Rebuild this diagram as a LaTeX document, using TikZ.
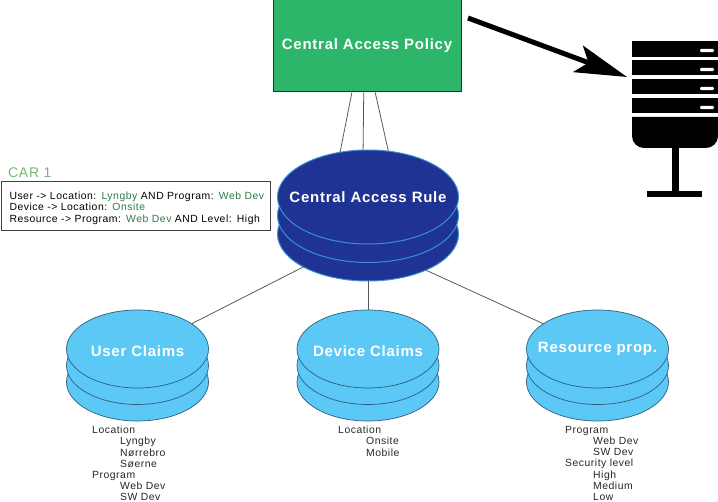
\documentclass[tikz,border=0pt]{standalone}
\usepackage{color}
\usepackage{fontspec}
\setmainfont[LetterSpace=5]{Liberation Sans}
\usepackage{tikz}
\usetikzlibrary{shapes.geometric,arrows.meta}
\definecolor{policygreen}{HTML}{2DB56A}
\definecolor{ruleblue}{HTML}{1F3394}
\definecolor{ruleedge}{HTML}{3A8FD2}
\definecolor{claimblue}{HTML}{5BC8F5}
\definecolor{claimedge}{HTML}{2C5F7E}
\definecolor{cargreen}{HTML}{70BB6E}
\definecolor{valgreen}{HTML}{2E7D46}
\tikzset{
  bigtext/.style = {text=white, font=\bfseries\fontsize{15}{17}\selectfont},
  rulelayer/.style = {ellipse, draw=ruleedge, fill=ruleblue, line width=1pt, inner sep=0pt, outer sep=0pt, minimum width=181pt, minimum height=94pt},
  claimlayer/.style = {ellipse, draw=claimedge, fill=claimblue, line width=0.7pt, inner sep=0pt, outer sep=0pt, minimum width=142pt, minimum height=78pt},
  listtext/.style = {anchor=north west, align=left, inner sep=0pt, font=\fontsize{10.4}{11.2}\selectfont, text=black!85},
  wire/.style = {draw=black!65, line width=0.8pt},
}
\newcommand{\sub}{\hspace*{28pt}}
\newcommand{\val}[1]{\textcolor{valgreen}{#1}}
\begin{document}
\begin{tikzpicture}[x=1pt, y=-1pt]
\useasboundingbox (0,0) rectangle (718,502);
% policy box
\node[rectangle, draw=black!70!green, fill=policygreen, line width=1pt, minimum width=188pt, minimum height=92pt, inner sep=0pt, bigtext] (p1) at (367,46) {\raisebox{3pt}{Central Access Policy}};
% central rule
\node[rulelayer] (r3) at (368,234) {};
\node[rulelayer] (r2) at (368,215.5) {};
\node[rulelayer, label={[bigtext]center:Central Access Rule}] (r1) at (368,197) {};
% claims
\node[claimlayer] (u3) at (137.5,382) {};
\node[claimlayer] (u2) at (137.5,365.5) {};
\node[claimlayer, label={[bigtext, yshift=-2pt]center:User Claims}] (u1) at (137.5,349) {};
\node[claimlayer] (d3) at (368,382) {};
\node[claimlayer] (d2) at (368,365.5) {};
\node[claimlayer, label={[bigtext, yshift=-2pt]center:Device Claims}] (d1) at (368,349) {};
\node[claimlayer] (s3) at (597.5,382) {};
\node[claimlayer] (s2) at (597.5,365.5) {};
\node[claimlayer, label={[bigtext]center:Resource prop.}] (s1) at (597.5,349) {};
\draw[wire] (p1.-108) -- (r1.122);
\draw[wire] (p1.-94) -- (r1.96);
\draw[wire] (p1.-80) -- (r1.66);
\draw[wire] (r3.207.6) -- (u1.25);
\draw[wire] (r3.south) -- (d1.north);
\draw[wire] (r3.-32) -- (s1.155);
% rule text
\node[anchor=west, inner sep=0pt, text=cargreen, font=\fontsize{14}{16}\selectfont] (c1) at (8,173) {CAR 1};
\node[anchor=north west, draw=black!75, line width=1pt, fill=white, minimum height=49pt, text width=252pt, inner xsep=8.5pt, inner ysep=0pt, align=left, font=\fontsize{10.4}{11.4}\selectfont] (c2) at (0.5,181.5) {\rule{0pt}{11pt}User -> Location: \val{Lyngby} AND Program: \val{Web Dev}\\Device -> Location: \val{Onsite}\\Resource -> Program: \val{Web Dev} AND Level: High};
% lists
\node[listtext] (l1) at (92,426) {Location\\\sub Lyngby\\\sub Nørrebro\\\sub Søerne\\Program\\\sub Web Dev\\\sub SW Dev};
\node[listtext] (l2) at (338,426) {Location\\\sub Onsite\\\sub Mobile};
\node[listtext] (l3) at (565,426) {Program\\\sub Web Dev\\\sub SW Dev\\Security level\\\sub High\\\sub Medium\\\sub Low};
% server
\fill (632,41) rectangle (718,57);
\fill (632,60) rectangle (718,75.5);
\fill (632,79) rectangle (718,94.5);
\fill (632,98) rectangle (718,113.5);
\fill (632,117) -- (718,117) [rounded corners=12pt] -- (718,148) -- (632,148) [sharp corners] -- cycle;
\fill (672.3,147) rectangle (679,192);
\fill (647,191) rectangle (702,197);
\foreach \ypos in {50.5,69.5,88.5,107.5}
  \fill[white, rounded corners=1.2pt] (700,\ypos-1.6) rectangle (714,\ypos+1.6);
\coordinate (a1) at (468,18);
\coordinate (a2) at (627,77);
\draw[line width=5pt, -{Stealth[length=52pt,width=28pt,inset=11pt]}] (a1) -- (a2);
\end{tikzpicture}
\end{document}
